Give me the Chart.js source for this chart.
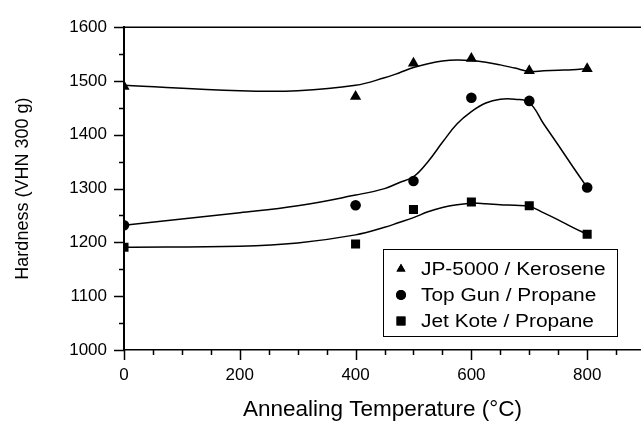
<!DOCTYPE html>
<html>
<head>
<meta charset="utf-8">
<script src="https://cdn.jsdelivr.net/npm/chart.js@4.4.1/dist/chart.umd.min.js"></script>
<style>
html, body { margin: 0; padding: 0; background: #fff; }
#caixa { width: 641px; height: 423px; }
</style>
</head>
<body>
<div id="caixa"><canvas id="graficoDureza"></canvas></div>
<script>
// measured points
var temps = [0, 400, 500, 600, 700, 800];
var jp5000 = [1490, 1471, 1533, 1542, 1519, 1523];
var topGun = [1232, 1269, 1314, 1469, 1463, 1302];
var jetKote = [1191, 1197, 1261, 1275, 1268, 1215];

// smooth fit curves
var curveTemps = [0, 200, 300, 400, 450, 475, 500, 525, 550, 575, 600, 625, 650, 675, 700, 725, 750, 775, 800];
var jp5000Fit = [1492, 1482, 1482, 1492, 1506, 1515, 1525, 1532, 1537, 1539, 1538, 1535, 1530, 1524, 1518, 1519, 1520, 1521, 1523];
var topGunFit = [1232, 1255, 1268, 1288, 1300, 1311, 1322, 1350, 1386, 1420, 1443, 1459, 1466, 1466, 1460, 1420, 1381, 1341, 1302];
var jetKoteFit = [1191, 1193, 1199, 1214, 1228, 1237, 1246, 1257, 1265, 1270, 1273, 1272, 1270, 1269, 1267, 1255, 1242, 1228, 1215];

var labels = ['JP-5000 / Kerosene', 'Top Gun / Propane', 'Jet Kote / Propane'];

function pts(xs, ys) {
    return xs.map(function (x, i) { return {x: x, y: ys[i]}; });
}

var fonte = "'Liberation Sans', Arial, sans-serif";

// ticks, top border and legend box
var extras = {
    id: 'extras',
    afterDraw: function (chart) {
        var c = chart.ctx, a = chart.chartArea;
        var sx = chart.scales.x, sy = chart.scales.y;
        c.save();
        c.strokeStyle = '#000';
        c.lineWidth = 1.5;
        c.beginPath();
        c.moveTo(a.left, a.top);
        c.lineTo(a.right, a.top);
        sx.ticks.forEach(function (t) {
            var px = Math.round(sx.getPixelForValue(t.value)) + 0.5;
            c.moveTo(px, a.bottom);
            c.lineTo(px, a.bottom + (t.value % 200 === 0 ? 10 : 5));
        });
        sy.ticks.forEach(function (t) {
            var py = Math.round(sy.getPixelForValue(t.value)) + 0.5;
            c.moveTo(a.left, py);
            c.lineTo(a.left - (t.value % 100 === 0 ? 10 : 5), py);
        });
        c.stroke();

        // legend
        var bx = a.right - 258, by = a.bottom - 101, bw = 234, bh = 87;
        c.lineWidth = 1;
        c.strokeRect(bx + 0.5, by + 0.5, bw, bh);
        c.fillStyle = '#000';
        var estilos = [['triangle', 5.2], ['circle', 5], ['rect', 6.3]];
        for (var i = 0; i < 3; i++) {
            var yy = by + 20 + i * 26;
            Chart.helpers.drawPoint(c, {pointStyle: estilos[i][0], radius: estilos[i][1], rotation: 0}, bx + 18, yy);
            c.fill();
            // the original lettering is a bit wide, so stretch it sideways
            c.save();
            c.translate(bx + 38, yy + 1);
            c.scale(1.16, 1);
            c.font = '18px ' + fonte;
            c.textBaseline = 'middle';
            c.fillText(labels[i], 0, 0);
            c.restore();
        }
        c.restore();
    }
};

var ctx = document.getElementById('graficoDureza').getContext('2d');
var graficoDureza = new Chart(ctx, {
type: 'scatter',
data: {
    datasets: [
        {label: labels[0], data: pts(temps, jp5000), pointStyle: 'triangle', pointRadius: 6.5, backgroundColor: '#000', borderColor: '#000', borderWidth: 0},
        {label: labels[1], data: pts(temps, topGun), pointStyle: 'circle', pointRadius: 5.3, backgroundColor: '#000', borderColor: '#000', borderWidth: 0},
        {label: labels[2], data: pts(temps, jetKote), pointStyle: 'rect', pointRadius: 6.4, backgroundColor: '#000', borderColor: '#000', borderWidth: 0},
        {type: 'line', label: 'fit1', data: pts(curveTemps, jp5000Fit), showLine: true, pointRadius: 0, borderColor: '#000', borderWidth: 1.5, tension: 0.4, fill: false},
        {type: 'line', label: 'fit2', data: pts(curveTemps, topGunFit), showLine: true, pointRadius: 0, borderColor: '#000', borderWidth: 1.5, tension: 0.4, fill: false},
        {type: 'line', label: 'fit3', data: pts(curveTemps, jetKoteFit), showLine: true, pointRadius: 0, borderColor: '#000', borderWidth: 1.5, tension: 0.4, fill: false}
    ]
},
options: {
    responsive: true,
    maintainAspectRatio: false,
    animation: false,
    layout: { autoPadding: false, padding: { top: 24, right: 0, left: 0, bottom: 0 } },
    scales: {
        x: {
            type: 'linear',
            min: 0,
            max: 893,
            border: { color: '#000', width: 1.5 },
            grid: { display: false, drawTicks: false },
            ticks: {
                stepSize: 50,
                includeBounds: false,
                autoSkip: false,
                maxRotation: 0,
                padding: 15,
                color: '#000',
                font: { family: fonte, size: 17 },
                callback: function (v) { return v % 200 === 0 ? String(v) : ''; }
            },
            title: { display: true, text: 'Annealing Temperature (°C)', color: '#000', font: { family: fonte, size: 22.5 }, padding: { top: 0, bottom: 0 } },
            afterFit: function (s) { s.height = 73; s.paddingLeft = 0; s.paddingRight = 0; }
        },
        y: {
            min: 1000,
            max: 1600,
            border: { color: '#000', width: 2 },
            grid: { display: false, drawTicks: false },
            ticks: {
                stepSize: 50,
                autoSkip: false,
                padding: 17,
                color: '#000',
                font: { family: fonte, size: 17 },
                callback: function (v) { return v % 100 === 0 ? String(v) : ''; }
            },
            title: { display: true, text: 'Hardness (VHN 300 g)', color: '#000', font: { family: fonte, size: 18 }, padding: { top: 12, bottom: 0 } },
            afterFit: function (s) { s.width = 124; }
        }
    },
    plugins: {
        legend: { display: false },
        tooltip: { enabled: false }
    }
},
plugins: [extras]
});
</script>
</body>
</html>
